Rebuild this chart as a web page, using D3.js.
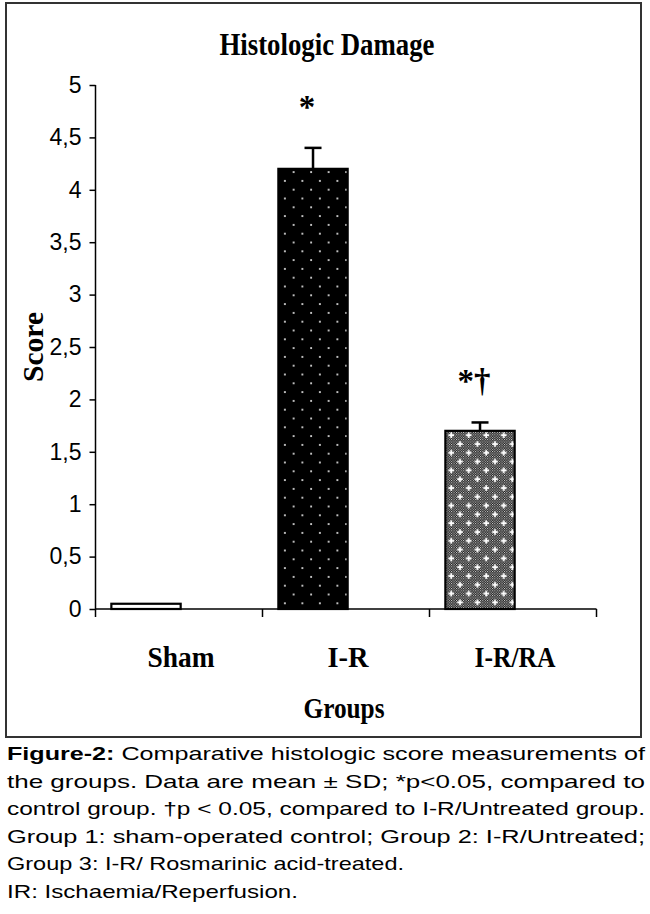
<!DOCTYPE html>
<html>
<head>
<meta charset="utf-8">
<script src="https://cdn.jsdelivr.net/npm/d3@7"></script>
<style>
  body { margin: 0; background: #fff; }
  svg { display: block; }
</style>
</head>
<body>
<div id="chart"></div>
<script>
var width = 650;
var height = 914;

// data
var groups = ["Sham", "I-R", "I-R/RA"];
var means = [0.05, 4.2, 1.7];
var sds = [0, 0.2, 0.08];
var marks = ["", "*", "*\u2020"];
var yTicks = [0, 0.5, 1, 1.5, 2, 2.5, 3, 3.5, 4, 4.5, 5];
var groupLabelWidths = [67, 41, 81];
var captionLines = [
  "the groups. Data are mean \u00b1 SD; *p<0.05, compared to",
  "control group. \u2020p < 0.05, compared to I-R/Untreated group.",
  "Group 1: sham-operated control; Group 2: I-R/Untreated;",
  "Group 3: I-R/ Rosmarinic acid-treated.",
  "IR: Ischaemia/Reperfusion."
];

var serif = "'Liberation Serif', 'Times New Roman', serif";
var sans = "'Liberation Sans', Arial, sans-serif";

var svg = d3.select("#chart").append("svg")
  .attr("width", width).attr("height", height);

var defs = svg.append("defs");

// black with white dots, staggered
var p1 = defs.append("pattern").attr("id", "dots")
  .attr("patternUnits", "userSpaceOnUse")
  .attr("width", 17.5).attr("height", 17.6);
p1.append("rect").attr("width", 17.5).attr("height", 17.6).attr("fill", "#000");
p1.append("rect").attr("x", 4).attr("y", 4).attr("width", 1.8).attr("height", 1.8).attr("fill", "#ddd");
p1.append("rect").attr("x", 12.75).attr("y", 12.8).attr("width", 1.8).attr("height", 1.8).attr("fill", "#ddd");

// fine dark checker
var p2 = defs.append("pattern").attr("id", "checker")
  .attr("patternUnits", "userSpaceOnUse")
  .attr("width", 2.4).attr("height", 2.4);
p2.append("rect").attr("width", 2.4).attr("height", 2.4).attr("fill", "#111");
p2.append("rect").attr("width", 1).attr("height", 1).attr("fill", "#eee");
p2.append("rect").attr("x", 1.2).attr("y", 1.2).attr("width", 1).attr("height", 1).attr("fill", "#eee");

// white crosses on top of the checker
var p3 = defs.append("pattern").attr("id", "crosses")
  .attr("patternUnits", "userSpaceOnUse")
  .attr("width", 17.5).attr("height", 17.6);
[[5, 4], [13.75, 12.8]].forEach(function(c) {
  p3.append("rect").attr("x", c[0] - 2.8).attr("y", c[1] - 0.9).attr("width", 5.6).attr("height", 1.8).attr("fill", "#fff");
  p3.append("rect").attr("x", c[0] - 0.9).attr("y", c[1] - 2.8).attr("width", 1.8).attr("height", 5.6).attr("fill", "#fff");
});

var fills = ["#fff", "url(#dots)", "url(#checker)"];

// frame
svg.append("rect")
  .attr("x", 6).attr("y", 3).attr("width", 635).attr("height", 734)
  .attr("fill", "none").attr("stroke", "#333").attr("stroke-width", 2);

var x = d3.scaleBand().domain(groups).range([95.5, 596.5]).padding(0);
var y = d3.scaleLinear().domain([0, 5]).range([609, 85]);
var bw = x.bandwidth();

function barX(g) { return x(g) + bw * 0.095; }
var barW = bw * 0.415;

// y axis
var yAxis = svg.append("g")
  .attr("transform", "translate(95.5,0)")
  .call(d3.axisLeft(y).tickValues(yTicks).tickSize(6).tickPadding(8)
    .tickFormat(function(d) { return String(d).replace(".", ","); }));
yAxis.select(".domain").attr("stroke", "#000").attr("stroke-width", 1.5)
  .attr("d", "M0," + y(5) + "V" + (y(0) + 8));
yAxis.selectAll(".tick line").attr("stroke", "#000").attr("stroke-width", 1.5);
yAxis.selectAll("text").attr("font-family", sans).attr("font-size", 23).attr("fill", "#000");

// x axis line with boundary ticks
svg.append("line")
  .attr("x1", x.range()[0]).attr("x2", x.range()[1])
  .attr("y1", y(0)).attr("y2", y(0))
  .attr("stroke", "#000").attr("stroke-width", 1.5);
svg.selectAll(".xtick").data(groups.slice(1).map(function(g) { return x(g); }).concat([x.range()[1]]))
  .enter().append("line")
  .attr("x1", function(d) { return d; }).attr("x2", function(d) { return d; })
  .attr("y1", y(0)).attr("y2", y(0) + 8)
  .attr("stroke", "#000").attr("stroke-width", 1.5);

// bars
svg.selectAll(".bar").data(groups).enter().append("rect")
  .attr("x", function(g) { return barX(g); })
  .attr("y", function(g, i) { return y(means[i]); })
  .attr("width", barW)
  .attr("height", function(g, i) { return y(0) - y(means[i]); })
  .attr("fill", function(g, i) { return fills[i]; })
  .attr("stroke", "#000").attr("stroke-width", 2.2);

svg.append("rect")
  .attr("x", barX(groups[2]) + 1).attr("y", y(means[2]) + 1)
  .attr("width", barW - 2).attr("height", y(0) - y(means[2]) - 2)
  .attr("fill", "url(#crosses)");

// error bars
groups.forEach(function(g, i) {
  if (!sds[i]) return;
  var cx = barX(g) + barW / 2;
  svg.append("line")
    .attr("x1", cx).attr("x2", cx)
    .attr("y1", y(means[i])).attr("y2", y(means[i] + sds[i]))
    .attr("stroke", "#000").attr("stroke-width", 2.5);
  svg.append("line")
    .attr("x1", cx - 8.5).attr("x2", cx + 8.5)
    .attr("y1", y(means[i] + sds[i])).attr("y2", y(means[i] + sds[i]))
    .attr("stroke", "#000").attr("stroke-width", 2.5);
});

// significance marks
svg.selectAll(".mark").data(groups).enter().append("text")
  .attr("x", function(g) { return barX(g) + barW / 2 - 6; })
  .attr("y", function(g, i) { return y(means[i] + sds[i]) - 30; })
  .attr("text-anchor", "middle")
  .attr("font-family", serif).attr("font-weight", "bold").attr("font-size", 33)
  .text(function(g, i) { return marks[i]; });

// title
svg.append("text")
  .attr("x", 327).attr("y", 55)
  .attr("text-anchor", "middle")
  .attr("font-family", serif).attr("font-weight", "bold").attr("font-size", 31)
  .attr("textLength", 215).attr("lengthAdjust", "spacingAndGlyphs")
  .text("Histologic Damage");

// category labels
svg.selectAll(".cat").data(groups).enter().append("text")
  .attr("x", function(g) { return x(g) + bw / 2 + 2; })
  .attr("y", 667)
  .attr("text-anchor", "middle")
  .attr("font-family", serif).attr("font-weight", "bold").attr("font-size", 30)
  .attr("textLength", function(g, i) { return groupLabelWidths[i]; })
  .attr("lengthAdjust", "spacingAndGlyphs")
  .text(function(g) { return g; });

svg.append("text")
  .attr("x", 344).attr("y", 718)
  .attr("text-anchor", "middle")
  .attr("font-family", serif).attr("font-weight", "bold").attr("font-size", 30)
  .attr("textLength", 81).attr("lengthAdjust", "spacingAndGlyphs")
  .text("Groups");

svg.append("text")
  .attr("transform", "translate(43,347) rotate(-90)")
  .attr("text-anchor", "middle")
  .attr("font-family", serif).attr("font-weight", "bold").attr("font-size", 30)
  .attr("textLength", 70).attr("lengthAdjust", "spacingAndGlyphs")
  .text("Score");

// caption
var cap = svg.append("g").attr("font-family", sans).attr("font-size", 19).attr("fill", "#000");
var first = cap.append("text").attr("x", 7).attr("y", 760)
  .attr("textLength", 638).attr("lengthAdjust", "spacingAndGlyphs");
first.append("tspan").attr("font-weight", "bold").text("Figure-2:");
first.append("tspan").text(" Comparative histologic score measurements of");

var lineWidths = [638, 638, 638, 397, 291];
cap.selectAll(".cl").data(captionLines).enter().append("text")
  .attr("x", 7)
  .attr("y", function(d, i) { return 787.5 + i * 27.6; })
  .attr("textLength", function(d, i) { return lineWidths[i]; })
  .attr("lengthAdjust", "spacingAndGlyphs")
  .text(function(d) { return d; });
</script>
</body>
</html>
